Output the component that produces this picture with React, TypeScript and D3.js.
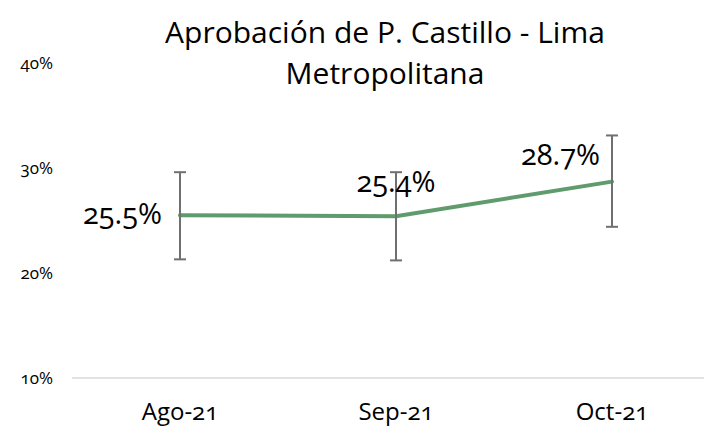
import { useEffect, useRef } from "react"
import * as d3 from "d3"

const months = ["Ago-21", "Sep-21", "Oct-21"]
const approval = [25.5, 25.4, 28.7]
const errLow = [21.3, 21.2, 24.4]
const errHigh = [29.6, 29.6, 33.1]
const yTicks = [10, 20, 30, 40]

const App = () => {
  const svgRef = useRef<SVGSVGElement>(null)

  useEffect(() => {
    const svg = d3.select(svgRef.current)
    svg.selectAll("*").remove()

    const width = 712
    const height = 434
    const margin = { top: 63, right: -8, bottom: 56, left: 72 }
    const font = "'Open Sans', 'Noto Sans', sans-serif"

    const x = d3
      .scaleBand()
      .domain(months)
      .range([margin.left, width - margin.right])
    const cx = (m: string) => (x(m) || 0) + x.bandwidth() / 2

    const y = d3
      .scaleLinear()
      .domain([10, 40])
      .range([height - margin.bottom, margin.top])

    svg.attr("width", width).attr("height", height)

    // title, two lines
    const title = svg
      .append("text")
      .attr("text-anchor", "middle")
      .style("font-family", font)
      .style("font-size", "30px")
      .style("fill", "#000")
    title.append("tspan").attr("x", 385).attr("y", 43).text("Aprobación de P. Castillo - Lima")
    title.append("tspan").attr("x", 385).attr("y", 84).text("Metropolitana")

    // y tick labels
    svg
      .append("g")
      .selectAll("text")
      .data(yTicks)
      .enter()
      .append("text")
      .attr("x", 53)
      .attr("y", (d) => y(d))
      .attr("dy", "0.35em")
      .attr("text-anchor", "end")
      .style("font-family", font)
      .style("font-size", "17px")
      .style("font-variant-numeric", "oldstyle-nums")
      .text((d) => `${d}%`)

    // baseline
    svg
      .append("line")
      .attr("x1", margin.left)
      .attr("x2", width)
      .attr("y1", y(10))
      .attr("y2", y(10))
      .attr("stroke", "#d9d9d9")
      .attr("stroke-width", 1.5)

    // x labels
    svg
      .append("g")
      .selectAll("text")
      .data(months)
      .enter()
      .append("text")
      .attr("x", (d) => cx(d))
      .attr("y", 420)
      .attr("text-anchor", "middle")
      .style("font-family", font)
      .style("font-size", "24px")
      .style("font-variant-numeric", "oldstyle-nums")
      .text((d) => d)

    // line
    const line = d3
      .line<number>()
      .x((d, i) => cx(months[i]))
      .y((d) => y(d))

    svg
      .append("path")
      .datum(approval)
      .attr("fill", "none")
      .attr("stroke", "#5f9b6d")
      .attr("stroke-width", 4)
      .attr("stroke-linecap", "round")
      .attr("d", line)

    // error bars
    const err = svg.append("g").attr("stroke", "#707070").attr("stroke-width", 2)
    months.forEach((m, i) => {
      const px = cx(m)
      err.append("line").attr("x1", px).attr("x2", px).attr("y1", y(errLow[i])).attr("y2", y(errHigh[i]))
      err.append("line").attr("x1", px - 6).attr("x2", px + 6).attr("y1", y(errLow[i])).attr("y2", y(errLow[i]))
      err.append("line").attr("x1", px - 6).attr("x2", px + 6).attr("y1", y(errHigh[i])).attr("y2", y(errHigh[i]))
    })

    // data labels
    const labelPos = [
      { dx: -18, dy: 9, anchor: "end" },
      { dx: 0, dy: -24, anchor: "middle" },
      { dx: -12, dy: -17, anchor: "end" },
    ]
    svg
      .append("g")
      .selectAll("text")
      .data(approval)
      .enter()
      .append("text")
      .attr("x", (d, i) => cx(months[i]) + labelPos[i].dx)
      .attr("y", (d) => y(d))
      .attr("dy", (d, i) => labelPos[i].dy)
      .attr("text-anchor", (d, i) => labelPos[i].anchor)
      .style("font-family", font)
      .style("font-size", "29px")
      .style("font-variant-numeric", "oldstyle-nums")
      .text((d) => `${d.toFixed(1)}%`)
  }, [])

  return (
    <div style={{ margin: -8, width: 712, height: 434, overflow: "hidden", background: "#fff" }}>
      <svg ref={svgRef} style={{ display: "block" }}></svg>
    </div>
  )
}

export default App
